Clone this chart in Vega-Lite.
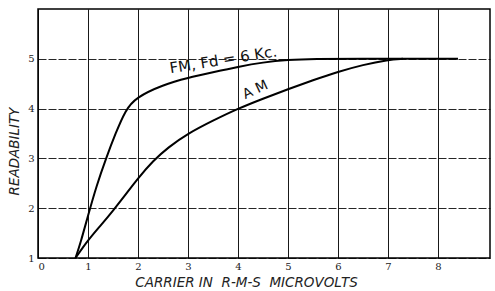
{
  "$schema": "https://vega.github.io/schema/vega-lite/v6.json",
  "autosize": {"type": "none"},
  "width": 452,
  "height": 249,
  "padding": {"left": 38, "top": 9, "right": 5, "bottom": 33},
  "background": "white",
  "config": {
    "view": {"stroke": "black", "strokeWidth": 1.5},
    "font": "DejaVu Sans"
  },
  "datasets": {
    "curves": [
      {"series": "FM", "x": 0.75, "y": 1.0},
      {"series": "FM", "x": 0.85, "y": 1.3},
      {"series": "FM", "x": 1.0, "y": 1.85},
      {"series": "FM", "x": 1.17, "y": 2.45},
      {"series": "FM", "x": 1.36, "y": 3.0},
      {"series": "FM", "x": 1.55, "y": 3.5},
      {"series": "FM", "x": 1.75, "y": 3.97},
      {"series": "FM", "x": 1.95, "y": 4.22},
      {"series": "FM", "x": 2.5, "y": 4.48},
      {"series": "FM", "x": 3.0, "y": 4.62},
      {"series": "FM", "x": 3.5, "y": 4.73},
      {"series": "FM", "x": 4.0, "y": 4.84},
      {"series": "FM", "x": 4.5, "y": 4.93},
      {"series": "FM", "x": 5.0, "y": 4.98},
      {"series": "FM", "x": 5.5, "y": 5.0},
      {"series": "FM", "x": 6.5, "y": 5.0},
      {"series": "FM", "x": 7.5, "y": 5.0},
      {"series": "FM", "x": 8.4, "y": 5.0},
      {"series": "AM", "x": 0.75, "y": 1.0},
      {"series": "AM", "x": 1.0, "y": 1.36},
      {"series": "AM", "x": 1.25, "y": 1.65},
      {"series": "AM", "x": 1.5, "y": 1.95},
      {"series": "AM", "x": 1.75, "y": 2.27},
      {"series": "AM", "x": 2.0, "y": 2.6},
      {"series": "AM", "x": 2.3, "y": 2.95},
      {"series": "AM", "x": 2.6, "y": 3.22},
      {"series": "AM", "x": 3.0, "y": 3.5},
      {"series": "AM", "x": 3.5, "y": 3.76},
      {"series": "AM", "x": 4.0, "y": 4.0},
      {"series": "AM", "x": 4.5, "y": 4.2},
      {"series": "AM", "x": 5.0, "y": 4.39},
      {"series": "AM", "x": 5.5, "y": 4.57},
      {"series": "AM", "x": 6.0, "y": 4.74},
      {"series": "AM", "x": 6.5, "y": 4.88},
      {"series": "AM", "x": 7.0, "y": 4.98},
      {"series": "AM", "x": 7.3, "y": 5.0}
    ],
    "fmLabel": [{"text": "FM,\u00a0Fd\u00a0=\u00a06\u00a0Kc.", "x": 3.72, "y": 4.88}],
    "amLabel": [{"text": "A\u00a0M", "x": 4.38, "y": 4.3}]
  },
  "layer": [
    {
      "data": {"name": "curves"},
      "mark": {"type": "line", "interpolate": "basis", "color": "black", "strokeWidth": 2},
      "encoding": {
        "x": {
          "field": "x", "type": "quantitative",
          "scale": {"domain": [0, 9.04], "nice": false, "zero": false},
          "axis": {
            "values": [0, 1, 2, 3, 4, 5, 6, 7, 8],
            "title": "CARRIER\u00a0IN\u00a0\u00a0R-M-S\u00a0\u00a0MICROVOLTS",
            "titleFont": "DejaVu Sans", "titleFontStyle": "italic", "titleFontWeight": "normal",
            "titleFontSize": 13.5, "titleColor": "#222", "titlePadding": 4, "titleX": 208,
            "labelFont": "DejaVu Serif", "labelFontSize": 10, "labelColor": "#222", "labelPadding": 3,
            "domain": false, "ticks": false,
            "grid": true, "gridColor": "black", "gridWidth": 1, "gridOpacity": 0.9
          }
        },
        "y": {
          "field": "y", "type": "quantitative",
          "scale": {"domain": [1, 6], "nice": false, "zero": false},
          "axis": {
            "values": [1, 2, 3, 4, 5],
            "title": "READABILITY",
            "titleFont": "DejaVu Sans", "titleFontStyle": "italic", "titleFontWeight": "normal",
            "titleFontSize": 13.5, "titleColor": "#222", "titlePadding": 6, "titleY": 142,
            "labelFont": "DejaVu Serif", "labelFontSize": 10, "labelColor": "#222", "labelPadding": 4,
            "domain": false, "ticks": false,
            "grid": true, "gridColor": "black", "gridWidth": 1, "gridDash": [8, 2], "gridOpacity": 0.85
          }
        },
        "detail": {"field": "series"}
      }
    },
    {
      "data": {"name": "fmLabel"},
      "mark": {"type": "text", "angle": -9, "fontSize": 15, "font": "DejaVu Sans", "color": "#111", "align": "center", "baseline": "alphabetic"},
      "encoding": {
        "x": {"field": "x", "type": "quantitative"},
        "y": {"field": "y", "type": "quantitative"},
        "text": {"field": "text"}
      }
    },
    {
      "data": {"name": "amLabel"},
      "mark": {"type": "text", "angle": -25, "fontSize": 14, "font": "DejaVu Sans", "color": "#111", "align": "center", "baseline": "alphabetic"},
      "encoding": {
        "x": {"field": "x", "type": "quantitative"},
        "y": {"field": "y", "type": "quantitative"},
        "text": {"field": "text"}
      }
    }
  ]
}
